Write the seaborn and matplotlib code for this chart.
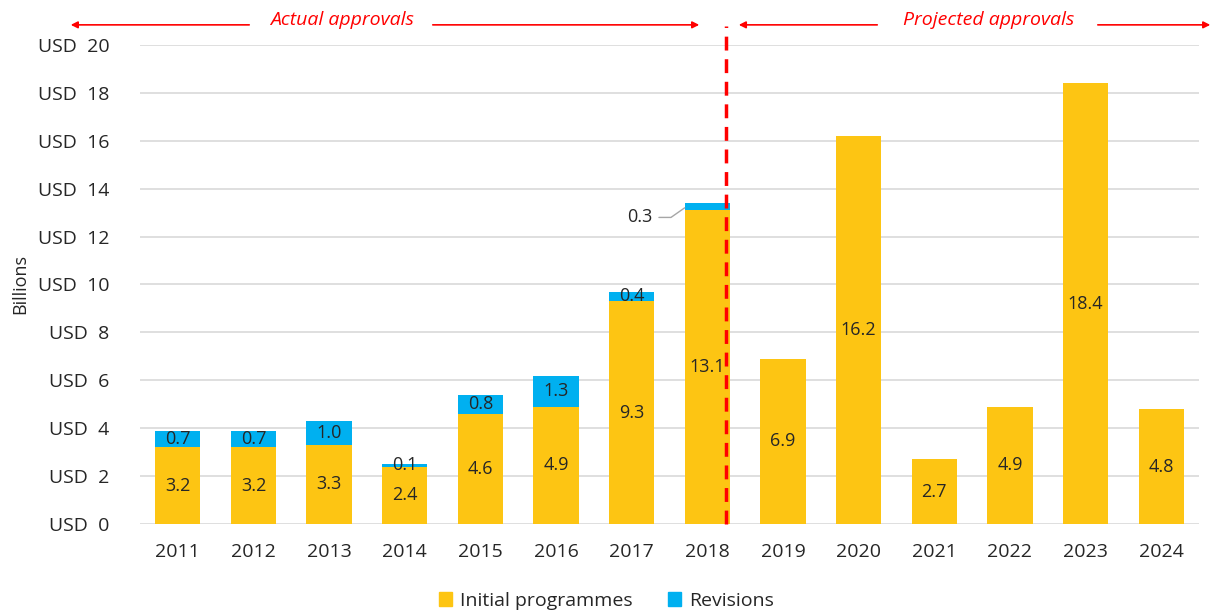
import numpy as np
import pandas as pd
import seaborn as sns
import matplotlib.pyplot as plt
from matplotlib.patches import Patch

years = ['2011', '2012', '2013', '2014', '2015', '2016', '2017',
         '2018', '2019', '2020', '2021', '2022', '2023', '2024']
initial = [3.2, 3.2, 3.3, 2.4, 4.6, 4.9, 9.3, 13.1, 6.9, 16.2, 2.7, 4.9, 18.4, 4.8]
revisions = [0.7, 0.7, 1.0, 0.1, 0.8, 1.3, 0.4, 0.3, 0, 0, 0, 0, 0, 0]

yellow = '#FDC513'
blue = '#00B0F0'
red = '#FF0000'

sns.set_theme(style='white')
plt.rcParams['font.family'] = ['Open Sans', 'DejaVu Sans']

df = pd.DataFrame({'year': years, 'initial': initial, 'revisions': revisions})
df['total'] = df['initial'] + df['revisions']

fig = plt.figure(figsize=(12.13, 6.12), dpi=100)
ax = fig.add_axes([0.1154, 0.1438, 0.8731, 0.7827])

# stacked: total in blue first, initial in yellow over it
sns.barplot(data=df, x='year', y='total', color=blue, width=0.6,
            saturation=1, linewidth=0, ax=ax, zorder=2)
sns.barplot(data=df, x='year', y='initial', color=yellow, width=0.6,
            saturation=1, linewidth=0, ax=ax, zorder=3)

ax.set_ylim(0, 20)
ax.set_xlim(-0.5, len(years) - 0.5)
ax.set_yticks(np.arange(0, 21, 2))
ax.set_yticklabels(['USD  %d' % v for v in range(0, 21, 2)], fontsize=14, color='#262626')
ax.tick_params(axis='x', labelsize=14, colors='#262626', pad=8)
ax.tick_params(axis='y', pad=16)
ax.yaxis.grid(True, color='#D9D9D9', linewidth=1.2)
ax.set_axisbelow(True)
for s in ax.spines.values():
    s.set_visible(False)
ax.set_xlabel('')
ax.set_ylabel('Billions', fontsize=13, color='#262626', labelpad=6)

# value labels
for i, row in df.iterrows():
    ax.text(i, row['initial'] / 2, '%.1f' % row['initial'], ha='center', va='center',
            fontsize=13, color='#262626', zorder=5)
    r = row['revisions']
    if r > 0 and row['year'] != '2018':
        ax.text(i, row['initial'] + r / 2, '%.1f' % r, ha='center', va='center',
                fontsize=13, color='#262626', zorder=5)

# 2018 revision label with leader line
i18 = years.index('2018')
ax.annotate('%.1f' % revisions[i18], xy=(i18 - 0.3, initial[i18] + 0.1),
            xytext=(i18 - 0.72, 12.8), ha='right', va='center', fontsize=13,
            color='#262626',
            arrowprops=dict(arrowstyle='-', color='#A6A6A6', lw=1,
                            connectionstyle='angle,angleA=0,angleB=35,rad=0',
                            shrinkA=2, shrinkB=0))

# divider between actual and projected
ax.axvline(7.25, ymin=0, ymax=1.04, color=red, lw=2.5, ls=(0, (4, 2.5)),
           clip_on=False, zorder=6)

# header arrows
ya = 1.042
arr = dict(arrowstyle='-|>', color=red, lw=1.2, mutation_scale=10)
tr = ax.transAxes
def fx(px):
    return (px - 140) / (1199 - 140)
ax.annotate('', xy=(fx(68), ya), xytext=(fx(252), ya), xycoords=tr, textcoords=tr, arrowprops=arr)
ax.annotate('', xy=(fx(702), ya), xytext=(fx(430), ya), xycoords=tr, textcoords=tr, arrowprops=arr)
ax.text(fx(342), ya + 0.01, 'Actual approvals', transform=tr, ha='center', va='center',
        fontsize=14, color=red, style='italic')
ax.annotate('', xy=(fx(736), ya), xytext=(fx(880), ya), xycoords=tr, textcoords=tr, arrowprops=arr)
ax.annotate('', xy=(fx(1213), ya), xytext=(fx(1095), ya), xycoords=tr, textcoords=tr, arrowprops=arr)
ax.text(fx(989), ya + 0.01, 'Projected approvals', transform=tr, ha='center', va='center',
        fontsize=14, color=red, style='italic')

handles = [Patch(color=yellow, label='Initial programmes'), Patch(color=blue, label='Revisions')]
fig.legend(handles=handles, loc='lower center', bbox_to_anchor=(0.5, -0.025), ncol=2,
           frameon=False, fontsize=14, handlelength=0.7, handleheight=0.7,
           handletextpad=0.4, columnspacing=1.8)

fig.savefig('out.png', dpi=100)
